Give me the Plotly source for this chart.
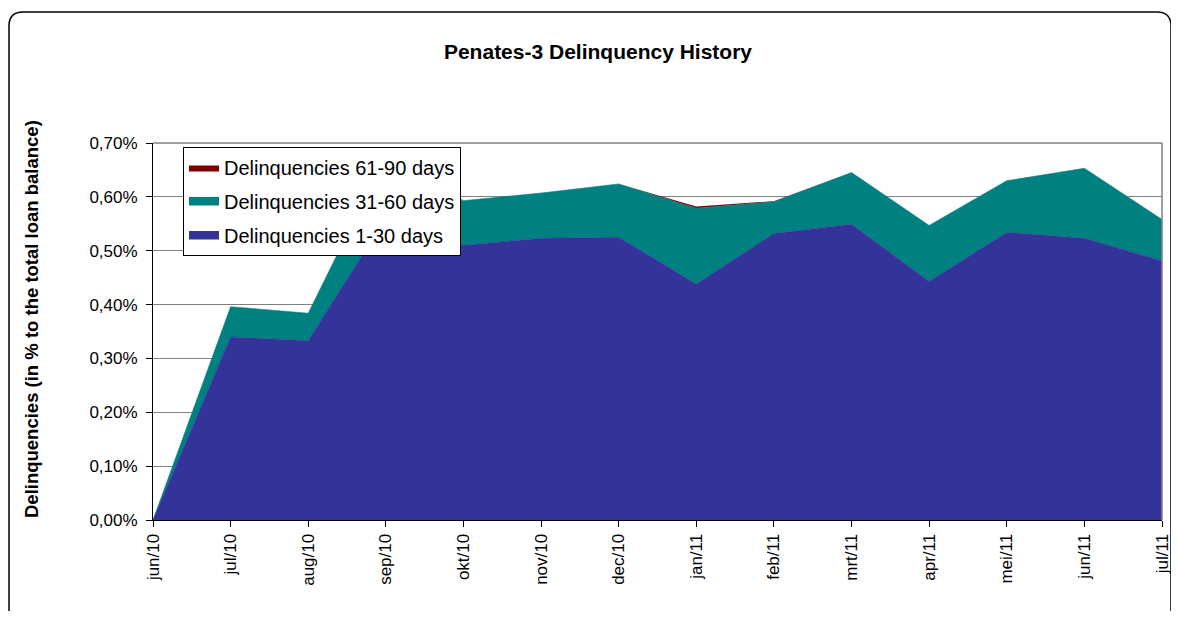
import plotly.graph_objects as go

months = ["jun/10", "jul/10", "aug/10", "sep/10", "okt/10", "nov/10", "dec/10",
          "jan/11", "feb/11", "mrt/11", "apr/11", "mei/11", "jun/11", "jul/11"]
d_1_30 = [0.0, 0.340, 0.333, 0.561, 0.510, 0.523, 0.525,
          0.438, 0.532, 0.549, 0.443, 0.534, 0.523, 0.481]
d_31_60 = [0.0, 0.056, 0.051, 0.115, 0.083, 0.084, 0.099,
           0.141, 0.059, 0.096, 0.104, 0.096, 0.130, 0.077]
d_61_90 = [0.0, 0.0, 0.0, 0.0, 0.0, 0.0, 0.0,
           0.003, 0.001, 0.0, 0.0, 0.0, 0.0, 0.0]
y_ticks = [0.0, 0.1, 0.2, 0.3, 0.4, 0.5, 0.6, 0.7]

FONT = "Liberation Sans, Arial, sans-serif"

fig = go.Figure()
series = [
    ("Delinquencies 1-30 days", d_1_30, "#333399", 0.6, 3),
    ("Delinquencies 31-60 days", d_31_60, "#008080", 0.6, 2),
    ("Delinquencies 61-90 days", d_61_90, "#800000", 0, 1),
]
for name, vals, col, lw, rank in series:
    fig.add_trace(go.Scatter(
        x=months, y=vals, name=name, mode="lines",
        stackgroup="one", legendgroup=name, legendrank=rank,
        line=dict(color=col, width=lw), fillcolor=col,
        hoverinfo="x+y+name",
    ))

# page offset (browser body margin)
OFF = 8
W, H = 1179 - 2 * OFF, 619 - 2 * OFF
# plot area in page pixels
L, R, T, B = 153, 1162, 143, 520
pw, ph = R - L, B - T

def px(x):
    return (x - L) / pw

def py(y):
    return (B - y) / ph

# rounded outer frame (page pixels)
x0, x1, y0, y1 = 9, 1171, 12, 640
r = 14
rx, ry = r / pw, r / ph
path = (f"M {px(x0)+rx},{py(y0)} L {px(x1)-rx},{py(y0)} "
        f"Q {px(x1)},{py(y0)} {px(x1)},{py(y0)-ry} "
        f"L {px(x1)},{py(y1)+ry} Q {px(x1)},{py(y1)} {px(x1)-rx},{py(y1)} "
        f"L {px(x0)+rx},{py(y1)} Q {px(x0)},{py(y1)} {px(x0)},{py(y1)+ry} "
        f"L {px(x0)},{py(y0)-ry} Q {px(x0)},{py(y0)} {px(x0)+rx},{py(y0)} Z")

fig.update_layout(
    width=W, height=H,
    margin=dict(l=L - OFF, r=W - (R - OFF), t=T - OFF, b=H - (B - OFF),
                autoexpand=False),
    paper_bgcolor="white", plot_bgcolor="white",
    font=dict(family=FONT, color="black", size=17),
    title=dict(text="<b>Penates-3 Delinquency History</b>",
               x=(598 - OFF) / W, xanchor="center",
               y=1 - (52 - OFF) / H, yanchor="middle",
               font=dict(family=FONT, size=21, color="black")),
    showlegend=True,
    legend=dict(x=px(183), y=py(147), xanchor="left", yanchor="top",
                bgcolor="white", bordercolor="black", borderwidth=1,
                font=dict(family=FONT, size=20, color="black"),
                traceorder="grouped", tracegroupgap=5,
                itemsizing="constant", itemwidth=30),
    xaxis=dict(type="category", range=[0, len(months) - 1],
               showgrid=False, showline=True, linecolor="black", linewidth=1,
               ticks="outside", ticklen=6, tickcolor="black",
               tickangle=-90, tickfont=dict(family=FONT, size=17),
               automargin=False, fixedrange=True),
    yaxis=dict(range=[0, 0.7], tickvals=y_ticks,
               ticktext=[f"{v:.2f}%".replace(".", ",") for v in y_ticks],
               showgrid=True, gridcolor="#808080", gridwidth=1,
               showline=True, linecolor="black", linewidth=1,
               ticks="outside", ticklen=6, tickcolor="black",
               ticklabelstandoff=5,
               tickfont=dict(family=FONT, size=17), zeroline=False,
               automargin=False, fixedrange=True),
    shapes=[
        dict(type="line", xref="paper", yref="paper", x0=0, x1=1, y0=1, y1=1,
             line=dict(color="#808080", width=1.5), layer="above"),
        dict(type="line", xref="paper", yref="paper", x0=1, x1=1, y0=0, y1=1,
             line=dict(color="#808080", width=1.5), layer="above"),
        dict(type="path", xref="paper", yref="paper", path=path,
             line=dict(color="black", width=1.5), layer="above"),
    ],
    annotations=[
        dict(text="<b>Delinquencies (in % to the total loan balance)</b>",
             xref="paper", yref="paper", x=px(31), y=py(319),
             xanchor="center", yanchor="middle", textangle=-90, showarrow=False,
             font=dict(family=FONT, size=18.5, color="black")),
    ],
)

fig.write_html("out.html")
